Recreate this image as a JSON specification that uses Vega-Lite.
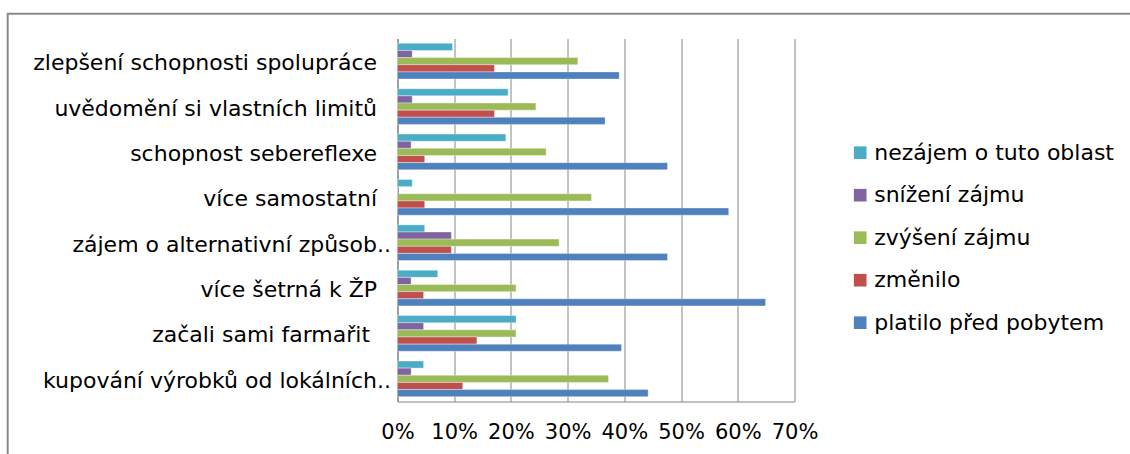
{
  "$schema": "https://vega.github.io/schema/vega-lite/v6.json",
  "autosize": {"type": "none"},
  "width": 397,
  "height": 363,
  "padding": {"left": 397.5, "top": 38.5, "right": 335.5, "bottom": 52.5},
  "background": "white",
  "config": {
    "view": {"stroke": null},
    "font": "DejaVu Sans",
    "axis": {"labelFont": "DejaVu Sans", "labelColor": "#000000"},
    "legend": {"strokeColor": "#8a8a8a", "strokeWidth": 2}
  },
  "data": {
    "values": [
      {"kategorie": "zlepšení schopnosti spolupráce", "odpověď": "nezájem o tuto oblast", "podíl": 0.097},
      {"kategorie": "zlepšení schopnosti spolupráce", "odpověď": "snížení zájmu", "podíl": 0.026},
      {"kategorie": "zlepšení schopnosti spolupráce", "odpověď": "zvýšení zájmu", "podíl": 0.318},
      {"kategorie": "zlepšení schopnosti spolupráce", "odpověď": "změnilo", "podíl": 0.171},
      {"kategorie": "zlepšení schopnosti spolupráce", "odpověď": "platilo před pobytem", "podíl": 0.391},

      {"kategorie": "uvědomění si vlastních limitů", "odpověď": "nezájem o tuto oblast", "podíl": 0.195},
      {"kategorie": "uvědomění si vlastních limitů", "odpověď": "snížení zájmu", "podíl": 0.026},
      {"kategorie": "uvědomění si vlastních limitů", "odpověď": "zvýšení zájmu", "podíl": 0.244},
      {"kategorie": "uvědomění si vlastních limitů", "odpověď": "změnilo", "podíl": 0.171},
      {"kategorie": "uvědomění si vlastních limitů", "odpověď": "platilo před pobytem", "podíl": 0.366},

      {"kategorie": "schopnost sebereflexe", "odpověď": "nezájem o tuto oblast", "podíl": 0.191},
      {"kategorie": "schopnost sebereflexe", "odpověď": "snížení zájmu", "podíl": 0.024},
      {"kategorie": "schopnost sebereflexe", "odpověď": "zvýšení zájmu", "podíl": 0.262},
      {"kategorie": "schopnost sebereflexe", "odpověď": "změnilo", "podíl": 0.048},
      {"kategorie": "schopnost sebereflexe", "odpověď": "platilo před pobytem", "podíl": 0.476},

      {"kategorie": "více samostatní", "odpověď": "nezájem o tuto oblast", "podíl": 0.026},
      {"kategorie": "více samostatní", "odpověď": "snížení zájmu", "podíl": 0},
      {"kategorie": "více samostatní", "odpověď": "zvýšení zájmu", "podíl": 0.342},
      {"kategorie": "více samostatní", "odpověď": "změnilo", "podíl": 0.048},
      {"kategorie": "více samostatní", "odpověď": "platilo před pobytem", "podíl": 0.584},

      {"kategorie": "zájem o alternativní způsob..", "odpověď": "nezájem o tuto oblast", "podíl": 0.048},
      {"kategorie": "zájem o alternativní způsob..", "odpověď": "snížení zájmu", "podíl": 0.095},
      {"kategorie": "zájem o alternativní způsob..", "odpověď": "zvýšení zájmu", "podíl": 0.285},
      {"kategorie": "zájem o alternativní způsob..", "odpověď": "změnilo", "podíl": 0.095},
      {"kategorie": "zájem o alternativní způsob..", "odpověď": "platilo před pobytem", "podíl": 0.476},

      {"kategorie": "více šetrná k ŽP", "odpověď": "nezájem o tuto oblast", "podíl": 0.071},
      {"kategorie": "více šetrná k ŽP", "odpověď": "snížení zájmu", "podíl": 0.024},
      {"kategorie": "více šetrná k ŽP", "odpověď": "zvýšení zájmu", "podíl": 0.209},
      {"kategorie": "více šetrná k ŽP", "odpověď": "změnilo", "podíl": 0.046},
      {"kategorie": "více šetrná k ŽP", "odpověď": "platilo před pobytem", "podíl": 0.649},

      {"kategorie": "začali sami farmařit ", "odpověď": "nezájem o tuto oblast", "podíl": 0.209},
      {"kategorie": "začali sami farmařit ", "odpověď": "snížení zájmu", "podíl": 0.046},
      {"kategorie": "začali sami farmařit ", "odpověď": "zvýšení zájmu", "podíl": 0.209},
      {"kategorie": "začali sami farmařit ", "odpověď": "změnilo", "podíl": 0.14},
      {"kategorie": "začali sami farmařit ", "odpověď": "platilo před pobytem", "podíl": 0.395},

      {"kategorie": "kupování výrobků od lokálních..", "odpověď": "nezájem o tuto oblast", "podíl": 0.046},
      {"kategorie": "kupování výrobků od lokálních..", "odpověď": "snížení zájmu", "podíl": 0.024},
      {"kategorie": "kupování výrobků od lokálních..", "odpověď": "zvýšení zájmu", "podíl": 0.372},
      {"kategorie": "kupování výrobků od lokálních..", "odpověď": "změnilo", "podíl": 0.115},
      {"kategorie": "kupování výrobků od lokálních..", "odpověď": "platilo před pobytem", "podíl": 0.442}
    ]
  },
  "mark": {"type": "bar", "stroke": "#ffffff", "strokeOpacity": 0.45, "strokeWidth": 0.8},
  "encoding": {
    "y": {
      "field": "kategorie",
      "type": "nominal",
      "sort": [
        "zlepšení schopnosti spolupráce",
        "uvědomění si vlastních limitů",
        "schopnost sebereflexe",
        "více samostatní",
        "zájem o alternativní způsob..",
        "více šetrná k ŽP",
        "začali sami farmařit ",
        "kupování výrobků od lokálních.."
      ],
      "scale": {"paddingInner": 0.214, "paddingOuter": 0.107},
      "axis": {
        "title": null,
        "ticks": false,
        "domainColor": "#868686",
        "domainWidth": 1.2,
        "labelFontSize": 22,
        "labelPadding": 7,
        "labelOffset": 2,
        "labelLimit": 0,
        "labelExpr": "slice(datum.value, -2) == '..' ? datum.value : datum.value + '\u00a0\u00a0\u2060'"
      }
    },
    "yOffset": {
      "field": "odpověď",
      "type": "nominal",
      "sort": ["nezájem o tuto oblast", "snížení zájmu", "zvýšení zájmu", "změnilo", "platilo před pobytem"],
      "scale": {"paddingInner": 0, "paddingOuter": 0}
    },
    "x": {
      "field": "podíl",
      "type": "quantitative",
      "scale": {"domain": [0, 0.7], "nice": false},
      "axis": {
        "title": null,
        "format": ".0%",
        "values": [0, 0.1, 0.2, 0.3, 0.4, 0.5, 0.6, 0.7],
        "ticks": false,
        "grid": true,
        "gridColor": "#868686",
        "gridWidth": 1,
        "domainColor": "#868686",
        "domainWidth": 1.2,
        "labelFontSize": 21,
        "labelPadding": 20,
        "labelFlush": false
      }
    },
    "color": {
      "field": "odpověď",
      "type": "nominal",
      "scale": {
        "domain": ["nezájem o tuto oblast", "snížení zájmu", "zvýšení zájmu", "změnilo", "platilo před pobytem"],
        "range": ["#4BACC6", "#8064A2", "#9BBB59", "#C0504D", "#4F81BD"]
      },
      "legend": {
        "title": null,
        "orient": "none",
        "legendX": -389.8,
        "legendY": -24.8,
        "padding": 128,
        "strokeColor": "#8a8a8a",
        "symbolType": "square",
        "symbolSize": 160,
        "symbolStrokeWidth": 0,
        "symbolOffset": 713.5,
        "labelOffset": 3,
        "labelFont": "DejaVu Sans",
        "labelFontSize": 22,
        "labelColor": "#000000",
        "labelLimit": 0,
        "rowPadding": 20.5
      }
    }
  }
}
